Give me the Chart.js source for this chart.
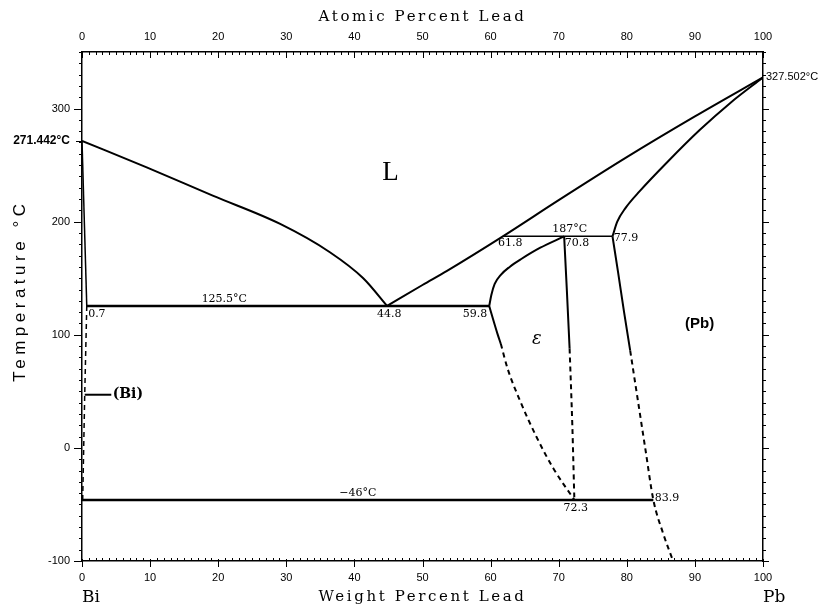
<!DOCTYPE html>
<html>
<head>
<meta charset="utf-8">
<script src="https://cdn.jsdelivr.net/npm/chart.js@4.4.1/dist/chart.umd.min.js"></script>
<style>
  html, body { margin: 0; padding: 0; background: #fff; }
  #wrap { width: 831px; height: 610px; }
</style>
</head>
<body>
<div id="wrap"><canvas id="c" width="831" height="610"></canvas></div>
<script>
// axis ticks
const weightTicks = [0, 10, 20, 30, 40, 50, 60, 70, 80, 90, 100];
const atomicTicks = [0, 10, 20, 30, 40, 50, 60, 70, 80, 90, 100];
const tempTicks = [-100, 0, 100, 200, 271.442, 300];
const rightTicks = [327.502];

// phase boundaries [wt% Pb, °C]
const biLiquidus = [[0, 271.442], [9.5, 248], [19.2, 223], [29.1, 198], [36.4, 173], [41.3, 150], [44.8, 125.5]];
const pbLiquidus = [[44.8, 125.5], [50, 144], [53.6, 156.5], [61.8, 187], [70, 219], [80, 257], [90, 293], [100, 327.502]];
const pbSolidus = [[77.9, 187], [78.6, 200], [79.8, 212], [81.9, 227], [86, 253], [90.7, 281], [95.2, 305], [100, 327.502]];
const pbSolvus = [[77.9, 187], [78.7, 156], [79.6, 120], [80.5, 86]];
const pbSolvusDash = [[80.5, 86], [81.6, 43], [82.7, 0], [83.9, -46], [85.3, -75], [86.8, -100]];
const epsSolidus = [[59.8, 125.5], [60.1, 135], [60.6, 145], [61.5, 153], [62.8, 160], [64.5, 167], [67.3, 177], [70.8, 187]];
const epsPb = [[70.8, 187], [71.2, 139], [71.6, 88]];
const epsPbDash = [[71.6, 88], [72.0, 20], [72.3, -46]];
const biEps = [[59.8, 125.5], [60.3, 115], [61.0, 101], [61.5, 92]];
const biEpsDash = [[61.5, 92], [62.5, 70], [64.3, 42], [66.8, 9], [69.2, -18], [72.3, -46]];
const biSolidus = [[0, 271.442], [0.7, 125.5]];
const biSolvus = [[0.7, 125.5], [0.4, 47], [0.1, -46]];
const eutecticLine = [[0.7, 125.5], [59.8, 125.5]];
const peritecticLine = [[61.8, 187], [77.9, 187]];
const eutectoidLine = [[0, -46], [83.9, -46]];
const biLeader = [[0.4, 47], [4.3, 47]];

const pts = arr => arr.map(p => ({ x: p[0], y: p[1] }));

function line(arr, opts) {
  return Object.assign({
    data: pts(arr),
    showLine: true,
    borderColor: '#000',
    borderWidth: 2,
    pointRadius: 0,
    fill: false,
    tension: 0
  }, opts || {});
}
const curve = { cubicInterpolationMode: 'monotone' };
const dash = { borderDash: [5, 4] };

const annotations = [
  { t: 'L', x: 45.3, y: 243, font: '27px "Liberation Serif"', align: 'center', base: 'middle' },
  { t: 'ε', x: 66.8, y: 96, font: 'italic 18px "DejaVu Serif"', align: 'center', base: 'middle' },
  { t: '(Pb)', x: 90.7, y: 110, font: 'bold 15px "Liberation Sans"', align: 'center', base: 'middle' },
  { t: '(Bi)', x: 4.5, y: 47, font: 'bold 14px "DejaVu Serif"', align: 'left', base: 'middle' },
  { t: '187°C', x: 71.6, y: 188.5, font: '11px "DejaVu Serif"', align: 'center', base: 'bottom' },
  { t: '61.8', x: 61.1, y: 185.5, font: '11px "DejaVu Serif"', align: 'left', base: 'top' },
  { t: '70.8', x: 70.9, y: 185.5, font: '11px "DejaVu Serif"', align: 'left', base: 'top' },
  { t: '77.9', x: 78.1, y: 185, font: '11px "DejaVu Serif"', align: 'left', base: 'middle' },
  { t: '125.5°C', x: 20.9, y: 127, font: '11px "DejaVu Serif"', align: 'center', base: 'bottom' },
  { t: '0.7', x: 0.9, y: 123.5, font: '11px "DejaVu Serif"', align: 'left', base: 'top' },
  { t: '44.8', x: 45.1, y: 123.5, font: '11px "DejaVu Serif"', align: 'center', base: 'top' },
  { t: '59.8', x: 59.5, y: 123.5, font: '11px "DejaVu Serif"', align: 'right', base: 'top' },
  { t: '−46°C', x: 40.5, y: -44.5, font: '11px "DejaVu Serif"', align: 'center', base: 'bottom' },
  { t: '72.3', x: 72.5, y: -48.5, font: '11px "DejaVu Serif"', align: 'center', base: 'top' },
  { t: '83.9', x: 84.1, y: -44.5, font: '11px "DejaVu Serif"', align: 'left', base: 'middle' }
];

const tickMarks = {
  id: 'tickMarks',
  afterDraw(chart) {
    const { ctx, chartArea: a } = chart;
    const x = chart.scales.x, x2 = chart.scales.x2, y = chart.scales.y;
    ctx.save();
    ctx.strokeStyle = '#000';
    ctx.lineWidth = 1;
    const seg = (x1, y1, xx, yy) => { ctx.beginPath(); ctx.moveTo(x1, y1); ctx.lineTo(xx, yy); ctx.stroke(); };
    for (let v = 0; v <= 100; v++) {
      const major = v % 10 === 0;
      const pt = Math.round(x2.getPixelForValue(v)) + 0.5;
      seg(pt, a.top, pt, a.top + (major ? 6 : 3));
      const pb = Math.round(x.getPixelForValue(v)) + 0.5;
      if (major) seg(pb, a.bottom - 2, pb, a.bottom + 6);
      else seg(pb, a.bottom, pb, a.bottom - 3);
    }
    for (let t = -100; t <= 350; t += 10) {
      const major = t % 100 === 0;
      const py = Math.round(y.getPixelForValue(t)) + 0.5;
      seg(a.left, py, a.left - (major ? 8 : 3), py);
      seg(a.right, py, a.right + (major ? 6 : 3), py);
    }
    const pm = Math.round(y.getPixelForValue(271.442)) + 0.5;
    seg(a.left - 6, pm, a.left, pm);
    ctx.restore();
  }
};

const textLayer = {
  id: 'textLayer',
  afterDraw(chart) {
    const { ctx } = chart;
    const x = chart.scales.x, y = chart.scales.y;
    ctx.save();
    ctx.fillStyle = '#000';
    annotations.forEach(n => {
      ctx.font = n.font;
      ctx.textAlign = n.align;
      ctx.textBaseline = n.base;
      ctx.fillText(n.t, x.getPixelForValue(n.x), y.getPixelForValue(n.y));
    });
    // axis titles
    ctx.textBaseline = 'alphabetic';
    ctx.textAlign = 'center';
    ctx.font = '15px "DejaVu Serif"';
    ctx.letterSpacing = '2.6px';
    ctx.fillText('Atomic Percent Lead', x.getPixelForValue(50), 21);
    ctx.fillText('Weight Percent Lead', x.getPixelForValue(50), 601);
    ctx.letterSpacing = '0px';
    ctx.font = '17px "DejaVu Serif"';
    ctx.textAlign = 'left';
    ctx.fillText('Bi', x.getPixelForValue(0), 602);
    ctx.fillText('Pb', x.getPixelForValue(100), 602);
    ctx.translate(25, y.getPixelForValue(139));
    ctx.rotate(-Math.PI / 2);
    ctx.textAlign = 'center';
    ctx.font = '17px "Liberation Sans"';
    ctx.letterSpacing = '4.5px';
    ctx.fillText('Temperature °C', 0, 0);
    ctx.restore();
  }
};

const tickFont = { family: '"Liberation Sans"', size: 11 };
const axisBorder = { display: true, color: '#000', width: 1.5 };
const noGrid = { display: false, drawTicks: false, tickLength: 0 };

new Chart(document.getElementById('c'), {
  type: 'scatter',
  data: {
    datasets: [
      line(biLiquidus, curve),
      line(pbLiquidus, curve),
      line(pbSolidus, curve),
      line(pbSolvus, curve),
      line(pbSolvusDash, Object.assign({}, curve, dash)),
      line(epsSolidus, curve),
      line(epsPb, curve),
      line(epsPbDash, Object.assign({}, curve, dash)),
      line(biEps, curve),
      line(biEpsDash, Object.assign({}, curve, dash)),
      line(biSolidus, { borderWidth: 1.5 }),
      line(biSolvus, Object.assign({ borderWidth: 1.5 }, dash)),
      line(eutecticLine, { borderWidth: 2.5 }),
      line(peritecticLine, { borderWidth: 1.5 }),
      line(eutectoidLine, { borderWidth: 2.5 }),
      line(biLeader, { borderWidth: 2 })
    ]
  },
  options: {
    responsive: false,
    devicePixelRatio: 1,
    animation: false,
    layout: { padding: 0 },
    plugins: { legend: { display: false }, tooltip: { enabled: false } },
    scales: {
      x: {
        type: 'linear', position: 'bottom', min: 0, max: 100,
        afterBuildTicks: s => { s.ticks = weightTicks.map(v => ({ value: v })); },
        afterFit: s => { s.height = 49; },
        grid: noGrid, border: axisBorder,
        ticks: { color: '#000', font: tickFont, padding: 10, autoSkip: false, maxRotation: 0 }
      },
      x2: {
        type: 'linear', position: 'top', min: 0, max: 100,
        afterBuildTicks: s => { s.ticks = atomicTicks.map(v => ({ value: v })); },
        afterFit: s => { s.height = 52; },
        grid: noGrid, border: axisBorder,
        ticks: { color: '#000', font: { family: '"Liberation Sans"', size: 11 }, padding: 8, autoSkip: false, maxRotation: 0 }
      },
      y: {
        type: 'linear', position: 'left', min: -100, max: 350,
        afterBuildTicks: s => { s.ticks = tempTicks.map(v => ({ value: v })); },
        afterFit: s => { s.width = 82; },
        grid: noGrid, border: axisBorder,
        ticks: {
          color: '#000', padding: 12, autoSkip: false,
          font: c => (c.tick && c.tick.value === 271.442)
            ? { family: '"Liberation Sans"', size: 12, weight: 'bold' }
            : tickFont,
          callback: v => v === 271.442 ? '271.442°C' : String(v)
        }
      },
      y2: {
        type: 'linear', position: 'right', min: -100, max: 350,
        afterBuildTicks: s => { s.ticks = rightTicks.map(v => ({ value: v })); },
        afterFit: s => { s.width = 68; },
        grid: noGrid, border: axisBorder,
        ticks: {
          color: '#000', padding: 3, autoSkip: false,
          font: { family: '"Liberation Sans"', size: 11 },
          callback: v => v + '°C'
        }
      }
    }
  },
  plugins: [tickMarks, textLayer]
});
</script>
</body>
</html>
